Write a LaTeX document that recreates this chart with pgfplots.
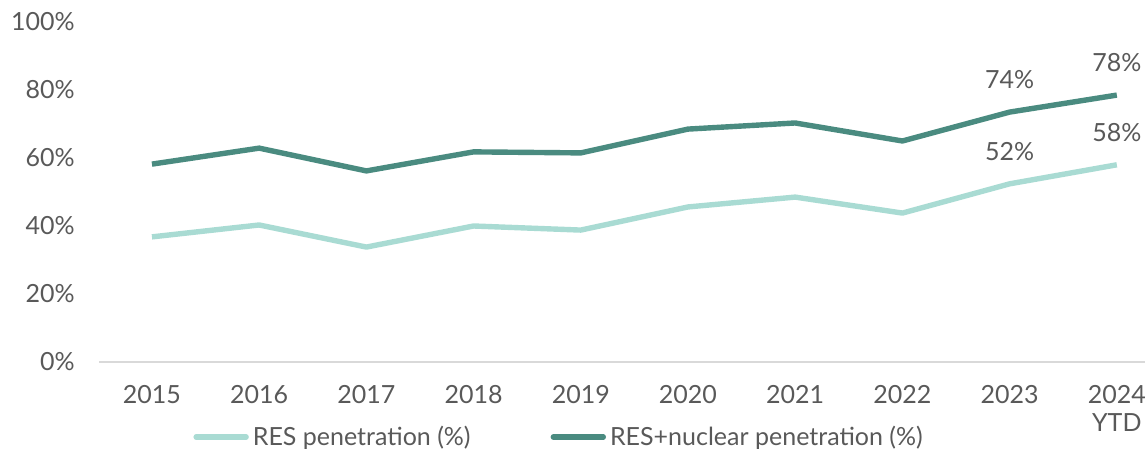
\documentclass[border=0pt]{standalone}
\usepackage{fontspec}
\setmainfont{Lato}
\usepackage{pgfplots}
\pgfplotsset{compat=1.18}
\definecolor{darkteal}{HTML}{4A8B80}
\definecolor{lightteal}{HTML}{A9DBD3}
\definecolor{txt}{HTML}{595959}
\definecolor{axisgray}{HTML}{D9D9D9}
\begin{document}
\begin{tikzpicture}
\useasboundingbox (0,0) rectangle (572.5pt,224.5pt);
\begin{axis}[
    at={(49.5pt,43.5pt)}, anchor=south west,
    scale only axis, width=523pt, height=170pt,
    xmin=-0.494, xmax=9.263, ymin=0, ymax=100,
    axis x line*=bottom, axis y line*=left,
    x axis line style={draw=axisgray, line width=1.2pt},
    y axis line style={draw=none},
    major tick length=0pt,
    xtick={0,...,9},
    xticklabels={2015,2016,2017,2018,2019,2020,2021,2022,2023,{2024\\YTD}},
    ytick={0,20,40,60,80,100},
    yticklabels={0\%,20\%,40\%,60\%,80\%,100\%},
    every tick label/.append style={font=\fontsize{12.5}{14}\selectfont, text=txt, inner sep=0pt},
    xticklabel style={anchor=north, align=center, yshift=-11.5pt},
    yticklabel style={anchor=east, xshift=-12pt},
    legend columns=2,
    legend style={at={(0.0899,-0.2206)}, anchor=west, draw=none, fill=none,
        inner sep=0pt, font=\fontsize{12.5}{14}\selectfont, text=txt,
        nodes={inner sep=2pt},
        /tikz/every even column/.append style={column sep=38pt}},
    legend image code/.code={\draw[#1, line width=2.7pt, line cap=round] (1.25pt,0pt) -- (26.25pt,0pt);},
    nodes near coords style={font=\fontsize{12.5}{14}\selectfont, text=txt, anchor=south, yshift=8pt},
]
\addplot[lightteal, line width=2.7pt, line join=round] coordinates {
 (0,36.8) (1,40.3) (2,33.8) (3,40.0) (4,38.8) (5,45.6) (6,48.5) (7,43.8) (8,52.4) (9,58.0)};
\addlegendentry{RES penetration (\%)}
\addplot[darkteal, line width=2.7pt, line join=round] coordinates {
 (0,58.2) (1,62.9) (2,56.2) (3,61.8) (4,61.5) (5,68.5) (6,70.3) (7,65.0) (8,73.5) (9,78.5)};
\addlegendentry{RES+nuclear penetration (\%)}
\addplot[draw=none, nodes near coords, point meta=explicit symbolic, forget plot] coordinates {
 (8,52.4) [52\%] (9,58.0) [58\%] (8,73.5) [74\%] (9,78.5) [78\%]};
\end{axis}
\end{tikzpicture}
\end{document}
